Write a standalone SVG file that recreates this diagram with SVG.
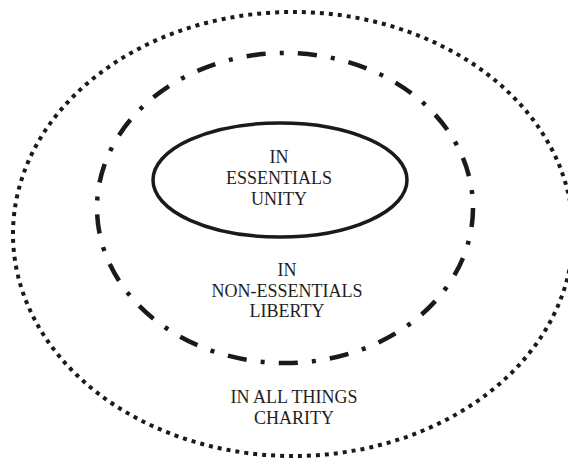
<svg xmlns="http://www.w3.org/2000/svg" width="568" height="464" viewBox="0 0 568 464">
  <style>
    .lbl { font-family: "Liberation Serif", "Times New Roman", serif; font-size: 18px; fill: #1e1e1e; text-anchor: middle; }
    .ring { fill: none; stroke: #1a1a1a; }
    .outer { stroke-width: 4; stroke-dasharray: 4 5; }
    .middle { stroke-width: 4.5; stroke-dasharray: 19 14 4 14; }
    .inner { stroke-width: 3.5; }
  </style>
  <rect width="568" height="464" fill="#ffffff"/>
  <g id="charity">
    <ellipse class="ring outer" cx="293" cy="234" rx="280" ry="222" pathLength="1584"/>
    <text class="lbl" x="294" y="403">IN ALL THINGS</text>
    <text class="lbl" x="294" y="424">CHARITY</text>
  </g>
  <g id="liberty">
    <ellipse class="ring middle" cx="285" cy="208" rx="188" ry="155" pathLength="1071"/>
    <text class="lbl" x="287" y="276">IN</text>
    <text class="lbl" x="287" y="297">NON-ESSENTIALS</text>
    <text class="lbl" x="287" y="317">LIBERTY</text>
  </g>
  <g id="unity">
    <ellipse class="ring inner" cx="280" cy="180" rx="127" ry="57"/>
    <text class="lbl" x="279" y="163">IN</text>
    <text class="lbl" x="279" y="184">ESSENTIALS</text>
    <text class="lbl" x="279" y="205">UNITY</text>
  </g>
  <g id="connectors"/>
</svg>
